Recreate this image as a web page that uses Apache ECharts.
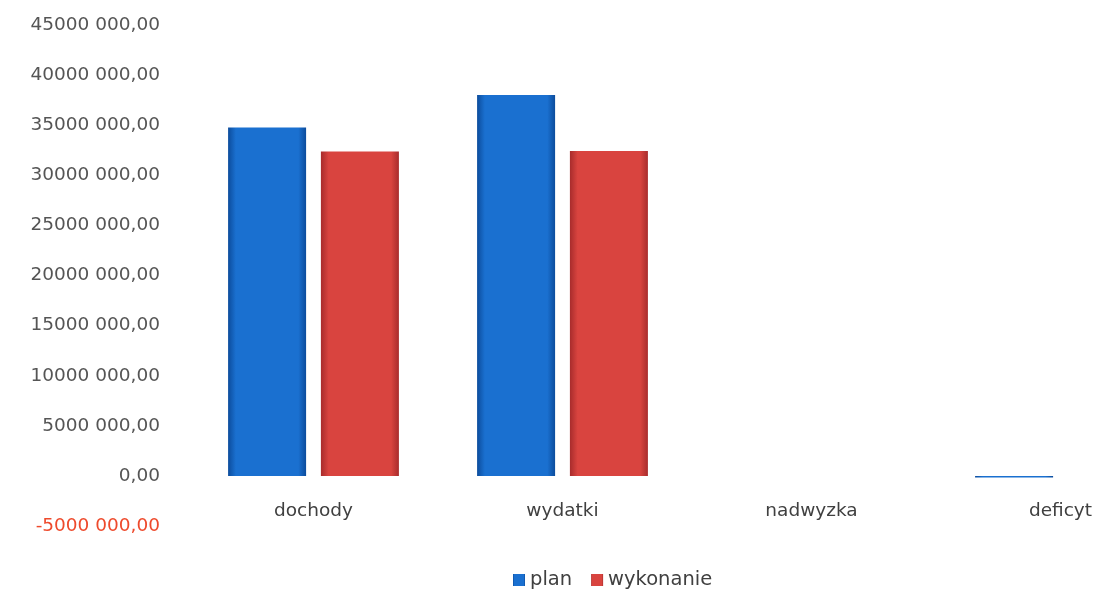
<!DOCTYPE html>
<html><head><meta charset="utf-8">
<script src="https://cdn.jsdelivr.net/npm/echarts@6/dist/echarts.min.js"></script>
<style>html,body{margin:0;padding:0;background:#fff;overflow:hidden;width:1100px;height:589px}#c{width:1186px;height:589px}</style>
</head><body><div id="c"></div>
<script>
const categories = ['dochody', 'wydatki', 'nadwyzka', 'deficyt'];
const planValues = [34760000, 38020000, 0, -150000];
const wykonanieValues = [32370000, 32430000, 0, 0];
const seriesNames = ['plan', 'wykonanie'];
const yMin = -5000000, yMax = 45000000, yStep = 5000000;

function fmt(v) {
  if (v === 0) return '0,00';
  const neg = v < 0; const a = Math.abs(v);
  const hi = Math.floor(a / 1000), lo = String(a % 1000).padStart(3, '0');
  return (neg ? '-' : '') + hi + ' ' + lo + ',00';
}
function grad(edge, mid) {
  return new echarts.graphic.LinearGradient(0, 0, 1, 0, [
    {offset: 0, color: edge}, {offset: 0.1, color: mid}, {offset: 0.9, color: mid}, {offset: 1, color: edge}
  ]);
}
const FONT = 'DejaVu Sans';
const chart = echarts.init(document.getElementById('c'));
chart.setOption({
  animation: false,
  textStyle: {fontFamily: FONT},
  grid: {left: 189, right: 1, top: 25, bottom: 63, containLabel: false},
  legend: {
    top: 565, left: 508, itemWidth: 12, itemHeight: 12, itemGap: 19,
    icon: 'rect',
    textStyle: {fontSize: 19.5, color: '#404040', fontFamily: FONT},
    data: seriesNames
  },
  xAxis: {
    type: 'category', data: categories,
    axisLine: {show: false}, axisTick: {show: false},
    axisLabel: {fontSize: 18.5, color: '#404040', margin: -24, fontFamily: FONT}
  },
  yAxis: {
    type: 'value', min: yMin, max: yMax, interval: yStep,
    splitLine: {show: false}, axisLine: {show: false}, axisTick: {show: false},
    axisLabel: {
      margin: 29, fontSize: 18.5, color: '#555555', fontFamily: FONT,
      formatter: v => v < 0 ? '{neg|' + fmt(v) + '}' : fmt(v),
      rich: {neg: {color: '#ee4a2c', fontSize: 18.5, fontFamily: FONT}}
    }
  },
  series: [
    {
      name: seriesNames[0], type: 'bar', data: planValues, barWidth: 78, barGap: '19%',
      itemStyle: {color: grad('#0c4c9c', '#1a70d0')}
    },
    {
      name: seriesNames[1], type: 'bar', data: wykonanieValues, barWidth: 78,
      itemStyle: {color: grad('#a82c2c', '#d9443f')}
    }
  ]
});
</script></body></html>
